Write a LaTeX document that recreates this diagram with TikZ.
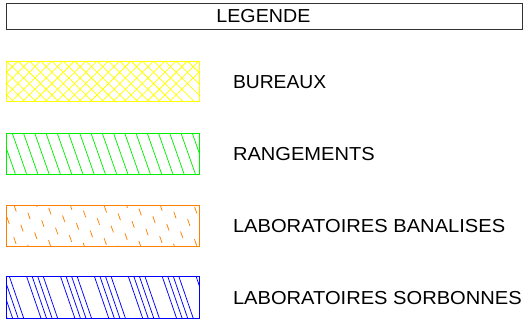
\documentclass[tikz,border=0pt]{standalone}
\usepackage{fontspec}
\setmainfont{Liberation Sans}
\begin{document}
\begin{tikzpicture}[x=1pt,y=-1pt,
  lbl/.style={anchor=base west,inner sep=0pt,font=\fontsize{18.8}{20}\selectfont},
  frame/.style={line width=1pt},
  hatch/.style={line width=0.75pt}]
\useasboundingbox (0,0) rectangle (524,324);
\definecolor{cyel}{RGB}{255,255,0}
\definecolor{cgrn}{RGB}{0,240,0}
\definecolor{corg}{RGB}{255,128,0}
\definecolor{cblu}{RGB}{0,0,255}
% header
\draw[line width=0.8pt,black!80] (6,3) rectangle (522,29.5);
\node[anchor=base,inner sep=0pt,font=\fontsize{18.8}{20}\selectfont] (legende) at (263.4,22.3) {\scalebox{1.046}[1]{LEGENDE}};
% bureaux
\begin{scope}
\clip (6,61) rectangle (199.3,101.7);
\foreach \k in {-5,...,18}{
  \draw[hatch,cyel] ({6.7+11.3*\k},61) -- ++(41,41);
  \draw[hatch,cyel] ({6.7+11.3*\k},61) -- ++(-41,41);
}
\end{scope}
\draw[frame,cyel] (6,61) rectangle (199.3,101.7);
% rangements
\begin{scope}
\clip (6,133.3) rectangle (199.3,174);
\foreach \k in {-2,...,17}{
  \draw[hatch,cgrn] ({12.3+11.25*\k},133.3) -- ++(14.3,40.7);
}
\end{scope}
\draw[frame,cgrn] (6,133.3) rectangle (199.3,174);
% laboratoires banalises
\begin{scope}
\clip (6,205) rectangle (199.3,246.7);
\foreach \k in {-2,...,17}{
  \pgfmathsetmacro{\ph}{mod(\k*13,21)}
  \draw[hatch,corg,dash pattern=on 7pt off 14pt,dash phase=\ph pt] ({14+11.25*\k},205) -- ++(14.3,41.7);
}
\end{scope}
\draw[frame,corg] (6,205) rectangle (199.3,246.7);
% laboratoires sorbonnes
\begin{scope}
\clip (6,276.7) rectangle (199.3,318.3);
\foreach \g in {-1,...,5}{
  \foreach \i in {0,...,3}{
    \draw[hatch,cblu] ({26.7+33.9*\g+5.55*\i},276.7) -- ++(14.3,41.6);
  }
}
\end{scope}
\draw[frame,cblu] (6,276.7) rectangle (199.3,318.3);
% labels
\node[lbl] (bureaux) at (232.8,88.3) {\scalebox{1.026}[1]{BUREAUX}};
\node[lbl] (rangements) at (232.8,160.3) {\scalebox{1.068}[1]{RANGEMENTS}};
\node[lbl] (banalises) at (232.8,232.3) {\scalebox{1.071}[1]{LABORATOIRES BANALISES}};
\node[lbl] (sorbonnes) at (232.8,304.3) {\scalebox{1.07}[1]{LABORATOIRES SORBONNES}};
\end{tikzpicture}
\end{document}
